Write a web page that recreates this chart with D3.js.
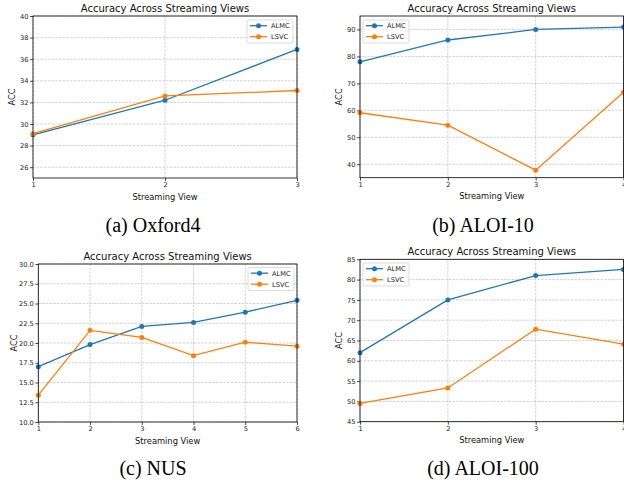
<!DOCTYPE html>
<html>
<head>
<meta charset="utf-8">
<script src="https://cdn.jsdelivr.net/npm/d3@7"></script>
<style>
  body { margin: 0; background: #fff; }
  svg { display: block; }
  .tick text { font-family: "DejaVu Sans", sans-serif; fill: #222; }
</style>
</head>
<body>
<svg id="fig" width="624" height="485"></svg>
<script>
// data
var seriesNames = ['ALMC', 'LSVC'];
var seriesColors = ['#1f77b4', '#ff7f0e'];

var oxfordViews = [1, 2, 3];
var oxfordALMC = [29.0, 32.2, 36.9];
var oxfordLSVC = [29.1, 32.6, 33.1];
var oxfordTicks = [26, 28, 30, 32, 34, 36, 38, 40];

var aloi10Views = [1, 2, 3, 4];
var aloi10ALMC = [78.0, 86.1, 90.0, 90.9];
var aloi10LSVC = [59.1, 54.5, 37.8, 66.7];
var aloi10Ticks = [40, 50, 60, 70, 80, 90];

var nusViews = [1, 2, 3, 4, 5, 6];
var nusALMC = [17.0, 19.8, 22.1, 22.6, 23.9, 25.4];
var nusLSVC = [13.4, 21.6, 20.7, 18.4, 20.1, 19.6];
var nusTicks = [10, 12.5, 15, 17.5, 20, 22.5, 25, 27.5, 30];

var aloi100Views = [1, 2, 3, 4];
var aloi100ALMC = [62.0, 75.0, 81.0, 82.5];
var aloi100LSVC = [49.5, 53.3, 67.8, 64.1];
var aloi100Ticks = [45, 50, 55, 60, 65, 70, 75, 80, 85];

var captions = ['(a) Oxford4', '(b) ALOI-10', '(c) NUS', '(d) ALOI-100'];

var svg = d3.select('#fig');

// one panel = one matplotlib axes
function panel(o) {
  var g = svg.append('g'),
      x = d3.scaleLinear().domain(o.xdom).range([o.left, o.right]),
      y = d3.scaleLinear().domain(o.ydom).range([o.bottom, o.top]);

  // grid
  var grid = g.append('g')
    .attr('stroke', '#b0b0b0')
    .attr('stroke-width', 0.7)
    .attr('stroke-dasharray', '2.5,1.2')
    .attr('opacity', 0.8);
  grid.selectAll('line.gx').data(o.views).enter().append('line')
    .attr('x1', function(d) { return x(d); })
    .attr('x2', function(d) { return x(d); })
    .attr('y1', o.top).attr('y2', o.bottom);
  grid.selectAll('line.gy').data(o.ticks).enter().append('line')
    .attr('y1', function(d) { return y(d); })
    .attr('y2', function(d) { return y(d); })
    .attr('x1', o.left).attr('x2', o.right);

  // axes
  var xa = g.append('g')
    .attr('transform', 'translate(0,' + o.bottom + ')')
    .call(d3.axisBottom(x).tickValues(o.views).tickFormat(d3.format('d'))
      .tickSize(3).tickPadding(1.5));
  var ya = g.append('g')
    .attr('transform', 'translate(' + o.left + ',0)')
    .call(d3.axisLeft(y).tickValues(o.ticks).tickFormat(d3.format(o.fmt))
      .tickSize(3).tickPadding(1.5));
  [xa, ya].forEach(function(a) {
    a.select('.domain').remove();
    a.selectAll('.tick line').attr('stroke', '#000').attr('stroke-width', 0.7);
    a.selectAll('.tick text').attr('font-size', 6.7);
  });

  // lines + markers
  [o.a, o.b].forEach(function(vals, i) {
    var pts = o.views.map(function(v, k) { return [v, vals[k]]; });
    g.append('path')
      .datum(pts)
      .attr('fill', 'none')
      .attr('stroke', seriesColors[i])
      .attr('stroke-width', 1.3)
      .attr('d', d3.line().x(function(d) { return x(d[0]); }).y(function(d) { return y(d[1]); }));
    g.selectAll('circle.s' + i).data(pts).enter().append('circle')
      .attr('cx', function(d) { return x(d[0]); })
      .attr('cy', function(d) { return y(d[1]); })
      .attr('r', 2.5)
      .attr('fill', seriesColors[i]);
  });

  // frame
  g.append('rect')
    .attr('x', o.left).attr('y', o.top)
    .attr('width', o.right - o.left).attr('height', o.bottom - o.top)
    .attr('fill', 'none').attr('stroke', '#000').attr('stroke-width', 0.8);

  // legend
  var lg = g.append('g').attr('transform', 'translate(' + o.lx + ',' + o.ly + ')');
  lg.append('rect')
    .attr('width', 46).attr('height', 23).attr('rx', 1.5)
    .attr('fill', '#fff').attr('fill-opacity', 0.8)
    .attr('stroke', '#ccc').attr('stroke-width', 0.7);
  seriesNames.forEach(function(n, i) {
    var yy = 5.7 + i * 11;
    lg.append('line')
      .attr('x1', 3).attr('x2', 20).attr('y1', yy).attr('y2', yy)
      .attr('stroke', seriesColors[i]).attr('stroke-width', 1.3);
    lg.append('circle').attr('cx', 11.5).attr('cy', yy).attr('r', 2.5).attr('fill', seriesColors[i]);
    lg.append('text')
      .attr('x', 24).attr('y', yy + 2.4)
      .attr('font-family', 'DejaVu Sans').attr('font-size', 6.7).attr('fill', '#222')
      .text(n);
  });

  // title + labels
  g.append('text')
    .attr('x', (o.left + o.right) / 2).attr('y', o.top - 4.3)
    .attr('text-anchor', 'middle')
    .attr('font-family', 'DejaVu Sans').attr('font-size', 10).attr('fill', '#111')
    .text('Accuracy Across Streaming Views');
  g.append('text')
    .attr('x', (o.left + o.right) / 2).attr('y', o.bottom + 21.5)
    .attr('text-anchor', 'middle')
    .attr('font-family', 'DejaVu Sans').attr('font-size', 8.3).attr('fill', '#111')
    .text('Streaming View');
  g.append('text')
    .attr('transform', 'translate(' + o.yl + ',' + ((o.top + o.bottom) / 2) + ') rotate(-90)')
    .attr('text-anchor', 'middle')
    .attr('font-family', 'DejaVu Sans').attr('font-size', 8.3).attr('fill', '#111')
    .text('ACC');

  // caption
  svg.append('text')
    .attr('x', o.cx).attr('y', o.cy)
    .attr('text-anchor', 'middle')
    .attr('font-family', 'Liberation Serif, serif').attr('font-size', 20).attr('fill', '#000')
    .text(o.caption);
}

panel({ xdom: [1, 3], ydom: [25, 40], left: 33, right: 297, top: 16, bottom: 178,
  views: oxfordViews, a: oxfordALMC, b: oxfordLSVC, ticks: oxfordTicks, fmt: 'd',
  lx: 247, ly: 20, yl: 14.5, caption: captions[0], cx: 153, cy: 232 });
panel({ xdom: [1, 4], ydom: [35, 95], left: 360, right: 623.5, top: 16, bottom: 177.7,
  views: aloi10Views, a: aloi10ALMC, b: aloi10LSVC, ticks: aloi10Ticks, fmt: 'd',
  lx: 363, ly: 20, yl: 341.5, caption: captions[1], cx: 483, cy: 232 });
panel({ xdom: [1, 6], ydom: [10, 30], left: 38.3, right: 297, top: 264, bottom: 422,
  views: nusViews, a: nusALMC, b: nusLSVC, ticks: nusTicks, fmt: '.1f',
  lx: 248, ly: 267.5, yl: 16.5, caption: captions[2], cx: 153, cy: 475 });
panel({ xdom: [1, 4], ydom: [45, 85], left: 360, right: 623.5, top: 259.3, bottom: 421.7,
  views: aloi100Views, a: aloi100ALMC, b: aloi100LSVC, ticks: aloi100Ticks, fmt: 'd',
  lx: 363, ly: 263, yl: 341.5, caption: captions[3], cx: 483, cy: 475 });
</script>
</body>
</html>
